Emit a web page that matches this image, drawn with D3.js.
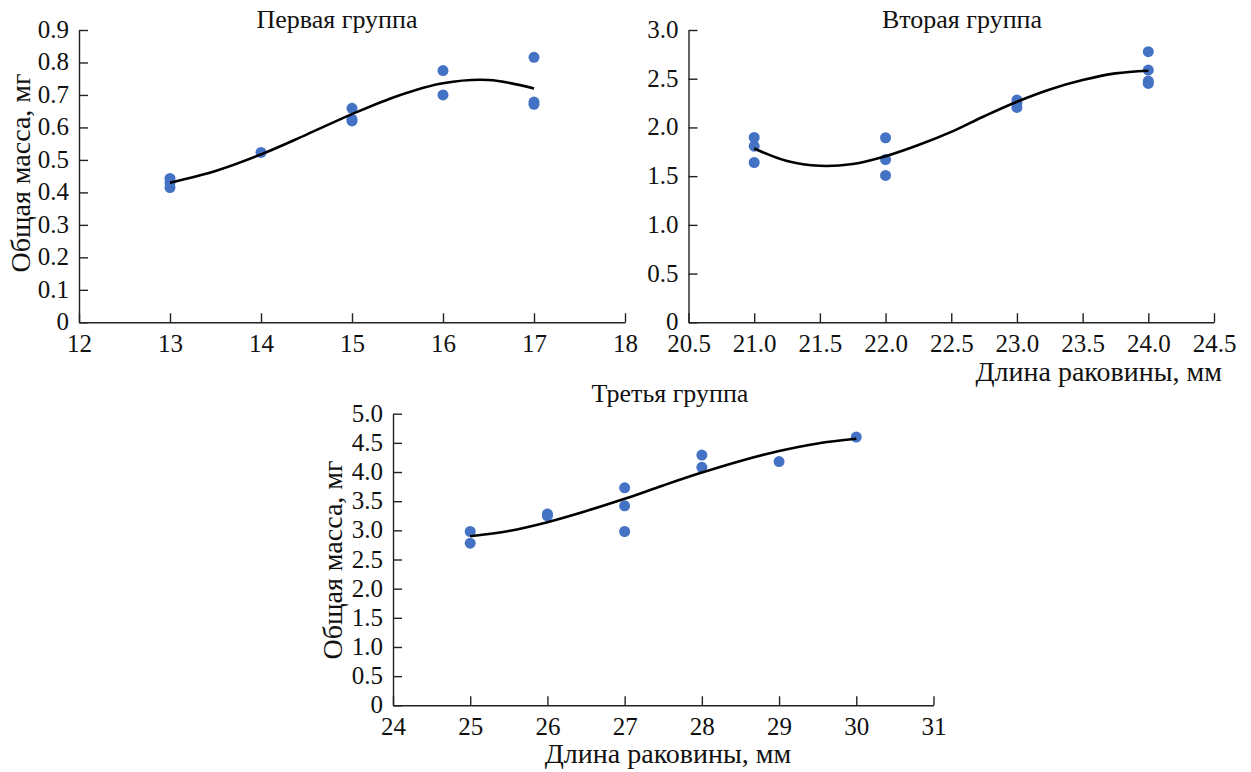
<!DOCTYPE html>
<html>
<head>
<meta charset="utf-8">
<script src="https://cdn.jsdelivr.net/npm/d3@7"></script>
<style>
  body { margin: 0; background: #fff; }
  svg, svg text { font-family: "Liberation Serif", "Times New Roman", serif; }
</style>
</head>
<body>
<script>
// ---- data: shell length (mm) vs total mass (mg) ----
const g1X = [13, 13, 13, 14, 15, 15, 15, 16, 16, 17, 17, 17];
const g1Y = [0.443, 0.43, 0.415, 0.523, 0.659, 0.625, 0.62, 0.775, 0.70, 0.816, 0.678, 0.671];
const g1TrendX = [13, 13.5, 14, 14.5, 15, 15.5, 16, 16.5, 17];
const g1TrendY = [0.430, 0.466, 0.517, 0.578, 0.641, 0.697, 0.736, 0.746, 0.720];

const g2X = [21, 21, 21, 22, 22, 22, 23, 23, 23, 24, 24, 24, 24];
const g2Y = [1.897, 1.808, 1.640, 1.894, 1.671, 1.507, 2.281, 2.25, 2.205, 2.777, 2.589, 2.476, 2.452];
const g2TrendX = [21, 21.25, 21.5, 21.75, 22, 22.25, 22.5, 22.75, 23, 23.25, 23.5, 23.75, 24];
const g2TrendY = [1.784, 1.655, 1.606, 1.625, 1.705, 1.820, 1.955, 2.115, 2.264, 2.390, 2.486, 2.555, 2.582];

const g3X = [25, 25, 26, 26, 27, 27, 27, 28, 28, 29, 30];
const g3Y = [2.98, 2.78, 3.28, 3.25, 3.73, 3.42, 2.98, 4.29, 4.08, 4.18, 4.60];
const g3TrendX = [25, 25.5, 26, 26.5, 27, 27.5, 28, 28.5, 29, 29.5, 30];
const g3TrendY = [2.90, 2.99, 3.14, 3.33, 3.54, 3.77, 3.99, 4.19, 4.36, 4.49, 4.57];

const g1XTicks = [12, 13, 14, 15, 16, 17, 18];
const g1YTicks = [0, 0.1, 0.2, 0.3, 0.4, 0.5, 0.6, 0.7, 0.8, 0.9];
const g2XTicks = [20.5, 21, 21.5, 22, 22.5, 23, 23.5, 24, 24.5];
const g2YTicks = [0, 0.5, 1.0, 1.5, 2.0, 2.5, 3.0];
const g3XTicks = [24, 25, 26, 27, 28, 29, 30, 31];
const g3YTicks = [0, 0.5, 1.0, 1.5, 2.0, 2.5, 3.0, 3.5, 4.0, 4.5, 5.0];

const titles = ["Первая группа", "Вторая группа", "Третья группа"];
const yTitle = "Общая масса, мг";
const xTitle = "Длина раковины, мм";

function main(){
    const width = 1251;
    const height = 772;
    const dotColor = "#4472c4";
    const serif = "'Liberation Serif', 'Times New Roman', serif";

    const svg = d3.select("body").append("svg")
        .attr("width", width)
        .attr("height", height);

    // one panel: pixel box + data
    function panel(opt){
        const xScale = d3.scaleLinear().domain(opt.xDomain).range([opt.left, opt.right]);
        const yScale = d3.scaleLinear().domain(opt.yDomain).range([opt.bottom, opt.top]);
        const g = svg.append("g");

        //x axis, ticks pointing inside
        g.append("g")
            .attr("transform", "translate(0," + opt.bottom + ")")
            .call(d3.axisBottom(xScale).tickValues(opt.xTicks).tickSize(-9).tickSizeOuter(0)
                .tickFormat(opt.xFmt))
            .call(a => a.selectAll("text")
                .style("font-family", serif)
                .style("font-size", "25px")
                .attr("y", 12).attr("dy", "0.71em").attr("fill", "#111"));

        //y axis
        g.append("g")
            .attr("transform", "translate(" + opt.left + ",0)")
            .call(d3.axisLeft(yScale).tickValues(opt.yTicks).tickSize(-9).tickSizeOuter(0)
                .tickFormat(opt.yFmt))
            .call(a => a.selectAll("text")
                .style("font-family", serif)
                .style("font-size", "25px")
                .attr("x", -10).attr("dy", "0.3em").attr("fill", "#111"));

        g.selectAll(".domain, .tick line").attr("stroke", "#222").attr("stroke-width", 1.4);

        //dots
        g.selectAll(".dot")
            .data(opt.xs.map((x, i) => [x, opt.ys[i]]))
            .enter().append("circle")
            .attr("class", "dot")
            .attr("cx", d => xScale(d[0]))
            .attr("cy", d => yScale(d[1]))
            .attr("r", 5.5)
            .style("fill", dotColor);

        //trend line
        const line = d3.line()
            .x(d => xScale(d[0]))
            .y(d => yScale(d[1]))
            .curve(d3.curveCatmullRom);
        g.append("path")
            .datum(opt.tx.map((x, i) => [x, opt.ty[i]]))
            .attr("d", line)
            .attr("fill", "none")
            .attr("stroke", "#000")
            .attr("stroke-width", 2.6);

        //title
        g.append("text")
            .attr("x", opt.titleX)
            .attr("y", opt.titleY)
            .attr("text-anchor", "middle")
            .attr("font-size", "26px")
            .attr("fill", "#111")
            .text(opt.title);
        return g;
    }

    const fmt1 = d3.format(".1f");

    const p1 = panel({
        xDomain: [12, 18], yDomain: [0, 0.9],
        left: 79, right: 625, top: 30, bottom: 322.3,
        xTicks: g1XTicks, yTicks: g1YTicks,
        xFmt: d => d, yFmt: d => d === 0 ? "0" : fmt1(d),
        xs: g1X, ys: g1Y, tx: g1TrendX, ty: g1TrendY,
        title: titles[0], titleX: 337, titleY: 28
    });
    p1.append("text")
        .attr("transform", "translate(30,173) rotate(-90)")
        .attr("text-anchor", "middle")
        .attr("font-size", "28px")
        .attr("fill", "#111")
        .text(yTitle);

    const p2 = panel({
        xDomain: [20.5, 24.5], yDomain: [0, 3.0],
        left: 688.5, right: 1214, top: 30, bottom: 322.3,
        xTicks: g2XTicks, yTicks: g2YTicks,
        xFmt: fmt1, yFmt: d => d === 0 ? "0" : fmt1(d),
        xs: g2X, ys: g2Y, tx: g2TrendX, ty: g2TrendY,
        title: titles[1], titleX: 962, titleY: 28
    });
    p2.append("text")
        .attr("x", 1222)
        .attr("y", 381)
        .attr("text-anchor", "end")
        .attr("font-size", "28px")
        .attr("fill", "#111")
        .text(xTitle);

    const p3 = panel({
        xDomain: [24, 31], yDomain: [0, 5.0],
        left: 393, right: 933.5, top: 413.7, bottom: 705.3,
        xTicks: g3XTicks, yTicks: g3YTicks,
        xFmt: d => d, yFmt: d => d === 0 ? "0" : fmt1(d),
        xs: g3X, ys: g3Y, tx: g3TrendX, ty: g3TrendY,
        title: titles[2], titleX: 670, titleY: 402
    });
    p3.append("text")
        .attr("transform", "translate(342,560) rotate(-90)")
        .attr("text-anchor", "middle")
        .attr("font-size", "28px")
        .attr("fill", "#111")
        .text(yTitle);
    p3.append("text")
        .attr("x", 668)
        .attr("y", 763)
        .attr("text-anchor", "middle")
        .attr("font-size", "28px")
        .attr("fill", "#111")
        .text(xTitle);
}
main();
</script>
</body>
</html>
